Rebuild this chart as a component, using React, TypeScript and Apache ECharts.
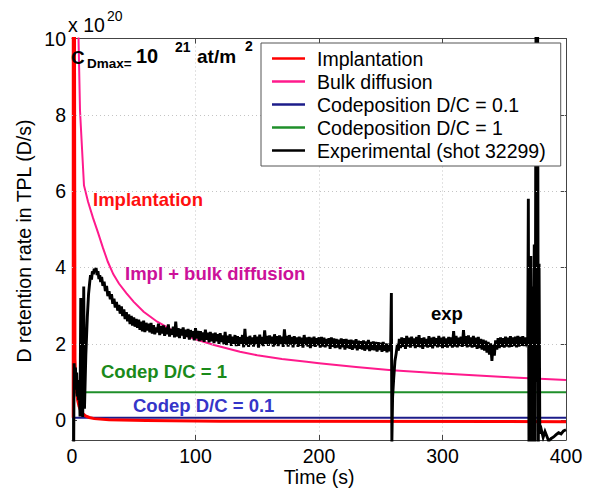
import React, { useEffect, useRef } from 'react';
import * as echarts from 'echarts';

const FONT = "'Liberation Sans', Arial, Helvetica, sans-serif";

const xTicks = [0, 100, 200, 300, 400];
const yTicks = [0, 2, 4, 6, 8, 10];
const yGridLines = [2, 4, 6, 8];

const seriesNames = [
  'Implantation',
  'Bulk diffusion',
  'Codeposition D/C = 0.1',
  'Codeposition D/C = 1',
  'Experimental (shot 32299)',
];
const seriesColors = ['#ff0000', '#ff1a8c', '#1c1c8a', '#1f8f2a', '#000000'];

const implantation: [number, number][] = [
  [1.0, 0.06], [1.1, 30], [2.4, 1.6], [3, 1.1], [3.8, 0.72], [4.6, 0.52], [5.7, 0.36],
  [7, 0.25], [8.3, 0.18], [11, 0.11], [14, 0.07], [18, 0.04], [30, 0.01],
  [60, -0.01], [120, -0.03], [400, -0.04],
];

const bulkDiffusion: [number, number][] = [
  [1.0, 0.06], [1.2, 30], [3, 16], [5.1, 10.3], [6.5, 8.1], [9.7, 6.15], [13, 5.72],
  [17, 5.3], [21, 4.92], [25, 4.52], [29, 4.15], [33.5, 3.82], [38, 3.58],
  [44, 3.33], [50, 3.1], [58, 2.84], [69, 2.58], [80, 2.38], [90, 2.24],
  [100, 2.12], [115, 1.97], [136, 1.79], [150, 1.7], [170, 1.6], [190, 1.53],
  [200, 1.49], [230, 1.39], [259, 1.31], [300, 1.22], [350, 1.13], [400, 1.05],
];

const codep01: [number, number][] = [[0, 0.06], [400, 0.06]];
const codep1: [number, number][] = [[0, 0.73], [400, 0.73]];

// Experimental signal.
const expHead: [number, number][] = [
  [1.4, -0.6], [1.7, 1.49], [2.3, 1.05], [2.8, 1.38], [3.3, 0.8], [3.8, 1.25],
  [4.3, 0.62], [4.8, 1.05], [5.3, 0.52], [5.9, 0.85], [6.5, 0.1], [7.1, 3.2],
  [7.6, 0.12], [8.2, 3.05], [8.7, 0.08], [9.5, 3.5], [10.1, 0.3], [11.2, 1.7],
  [12.4, 2.7], [13.4, 3.3], [14.3, 3.6], [15, 3.8], [15.8, 3.68], [16.5, 3.9],
  [17.3, 3.82], [18, 3.97], [18.8, 3.88], [19.5, 3.99], [20.3, 3.8], [21, 3.9],
  [21.8, 3.7], [22.5, 3.8], [23.2, 3.62],
];
// one sample per second from t = 24 s
const expSegAStart = 24;
const expSegA = [
  3.75, 3.52, 3.63, 3.38, 3.52, 3.25, 3.38, 3.17, 3.3, 3.05,
  3.18, 2.95, 3.1, 2.87, 3.02, 2.79, 2.98, 2.73, 2.9, 2.65,
  2.83, 2.59, 2.77, 2.52, 2.73, 2.48, 2.69, 2.45, 2.65, 2.42,
  2.63, 2.37, 2.58, 2.33, 2.61, 2.31, 2.55, 2.35, 2.53, 2.3,
  2.55, 2.27, 2.49, 2.25, 2.43, 2.3, 2.53, 2.23, 2.47, 2.27,
  2.48, 2.21, 2.43, 2.25, 2.51, 2.19, 2.39, 2.24, 2.45, 2.17,
  2.58, 2.19, 2.41, 2.15, 2.39, 2.22, 2.43, 2.13, 2.37, 2.18,
  2.39, 2.11, 2.36, 2.17, 2.33, 2.09, 2.41, 2.14, 2.34, 2.07,
  2.33, 2.09, 2.3, 2.05, 2.37, 2.11, 2.29, 2.04, 2.31, 2.07,
  2.27, 2.02, 2.29, 2.07, 2.25, 2.0, 2.28, 2.05, 2.22, 1.99,
  2.31, 1.97, 2.21, 2.03, 2.25, 1.95, 2.19, 2.0, 2.23, 1.94,
  2.2, 1.95, 2.17, 2.0, 2.23, 1.91, 2.39, 1.97, 2.18, 1.92,
  2.21, 1.98, 2.17, 1.93, 2.23, 1.99, 2.19, 1.9, 2.24, 1.97,
  2.18, 1.94, 2.35, 2.0, 2.21, 1.95, 2.22, 2.01, 2.19, 1.93,
  2.25, 1.97, 2.2, 1.94, 2.22, 2.0, 2.19, 1.92, 2.38, 1.99,
  2.21, 1.93, 2.23, 1.98, 2.18, 1.91, 2.2, 1.99, 2.17, 1.92,
  2.19, 1.95, 2.16, 1.9, 2.23, 1.97, 2.17, 1.93, 2.18, 1.89,
  2.16, 1.94, 2.19, 1.92, 2.15, 1.96, 2.17, 1.9, 2.18, 1.93,
  2.16, 1.91, 2.13, 1.94, 2.15, 1.87, 2.17, 1.92, 2.14, 1.89,
  2.13, 1.9, 2.11, 1.86, 2.14, 1.91, 2.12, 1.85, 2.13, 1.89,
  2.1, 1.87, 2.11, 1.84, 2.09, 1.88, 2.12, 1.83, 2.08, 1.87,
  2.07, 1.85, 2.09, 1.82, 2.06, 1.86, 2.1, 1.81, 2.05, 1.84,
  2.06, 1.83, 2.05, 1.8, 2.04, 1.84, 2.03, 1.79, 2.05, 1.82,
  2.01, 1.78, 2.0, 1.81, 1.92,
];
const expMid: [number, number][] = [
  [258.6, 3.33], [259, -0.6], [259.6, 0.6], [260.5, 1.1], [261.5, 1.55],
  [262.5, 1.75], [263.5, 2.0], [264.3, 1.82],
];
// one sample per second from t = 265 s
const expSegBStart = 265;
const expSegB = [
  2.13, 1.89, 2.17, 1.92, 2.15, 1.87, 2.21, 1.93, 2.16, 1.9,
  2.19, 1.94, 2.14, 1.89, 2.18, 1.92, 2.23, 1.91, 2.15, 1.87,
  2.17, 1.93, 2.13, 1.9, 2.2, 1.92, 2.16, 1.88, 2.18, 1.94,
  2.15, 1.91, 2.21, 1.93, 2.16, 1.89, 2.19, 1.92, 2.14, 1.9,
  2.18, 1.94, 2.17, 1.9, 2.33, 1.93, 2.21, 1.91, 2.16, 1.94,
  2.19, 1.92, 2.36, 1.95, 2.2, 1.91, 2.22, 1.93, 2.17, 1.9,
  2.21, 1.92, 2.16, 1.87, 2.18, 1.89, 2.13, 1.85, 2.11, 1.82,
  2.08, 1.77, 2.05, 1.72, 2.01, 1.55, 1.98, 1.69, 2.09, 1.85,
  2.15, 1.89, 2.17, 1.92, 2.15, 1.9, 2.19, 1.93, 2.16, 1.91,
  2.2, 1.92, 2.17, 1.94, 2.19, 1.91, 2.21, 1.93, 2.18, 1.95,
  2.2, 1.94, 2.17, 2.02,
];
const expTail: [number, number][] = [
  [369, 2.1], [369.5, 5.8], [370, -0.6], [370.8, 2.0], [371.5, 4.3], [372, -0.6],
  [372.6, 3.5], [373.2, -0.6], [374.3, 4.6], [375, -0.6], [375.8, 12], [376.5, 1.0],
  [377, 11], [377.6, -0.6], [378.2, 4.1], [378.8, -0.35], [380, -0.25], [381.5, -0.45],
  [383, -0.3], [384.5, -0.42], [386, -0.55], [388, -0.48], [390, -0.44], [392, -0.38],
  [394, -0.33], [396, -0.36], [398, -0.28], [400, -0.25],
];

const experimental: [number, number][] = [
  ...expHead,
  ...expSegA.map((v, i) => [expSegAStart + i, v] as [number, number]),
  ...expMid,
  ...expSegB.map((v, i) => [expSegBStart + i, v] as [number, number]),
  ...expTail,
];

const seriesData = [implantation, bulkDiffusion, codep01, codep1, experimental];
const seriesWidths = [3, 2, 2, 2, 2.9];

function txt(text: string, x: number, y: number, fill: string, size: number, weight = 'bold', extra: any = {}) {
  const { align, ...rest } = extra;
  return {
    type: 'text',
    x,
    y,
    z: 10,
    silent: true,
    ...rest,
    style: {
      text,
      fill,
      fontSize: size,
      fontWeight: weight,
      fontFamily: FONT,
      align: align || 'left',
      verticalAlign: 'middle',
    },
  };
}

export default function App() {
  const ref = useRef<HTMLDivElement>(null);
  useEffect(() => {
    document.body.style.margin = '0';
    const chart = echarts.init(ref.current!, null, { renderer: 'svg' });
    const axisLine = { show: true, onZero: false, lineStyle: { color: '#444', width: 1 } };
    const axisTick = { show: true, inside: true, length: 5, lineStyle: { color: '#444' } };
    const labelStyle = { color: '#000', fontSize: 19.5, fontFamily: FONT, margin: 6 };
    const series: any[] = [
      {
        name: 'gridlines',
        type: 'line',
        data: [],
        silent: true,
        z: 1,
        markLine: {
          silent: true,
          symbol: 'none',
          label: { show: false },
          lineStyle: { color: '#c4c4c4', type: [1, 3], width: 1 },
          data: yGridLines.map((v) => ({ yAxis: v })),
        },
      },
    ];
    seriesNames.forEach((name, i) => {
      series.push({
        name,
        type: 'line',
        data: seriesData[i],
        showSymbol: false,
        symbol: 'none',
        color: seriesColors[i],
        lineStyle: { width: seriesWidths[i], color: seriesColors[i], join: 'miter' },
        z: i === 4 ? 4 : i === 0 ? 3 : 2,
        clip: true,
      });
    });
    chart.setOption({
      animation: false,
      backgroundColor: '#fff',
      textStyle: { fontFamily: FONT },
      grid: { left: 72, right: 29, top: 38.5, bottom: 48, containLabel: false },
      xAxis: [
        {
          type: 'value', min: xTicks[0], max: xTicks[xTicks.length - 1], interval: 100,
          position: 'bottom', axisLine, axisTick, axisLabel: labelStyle,
          splitLine: { show: true, lineStyle: { color: '#c4c4c4', type: [1, 3], width: 1 } },
        },
        {
          type: 'value', min: xTicks[0], max: xTicks[xTicks.length - 1], interval: 100,
          position: 'top', axisLine, axisTick, axisLabel: { show: false }, splitLine: { show: false },
        },
      ],
      yAxis: [
        {
          type: 'value', min: -0.52, max: 10, position: 'left', axisLine,
          axisTick: { ...axisTick, customValues: yTicks },
          axisLabel: { ...labelStyle, customValues: yTicks },
          splitLine: { show: false },
        },
        {
          type: 'value', min: -0.52, max: 10, position: 'right', axisLine,
          axisTick: { ...axisTick, customValues: yTicks },
          axisLabel: { show: false, customValues: yTicks },
          splitLine: { show: false },
        },
      ],
      legend: {
        data: seriesNames,
        orient: 'vertical',
        left: 261,
        top: 43,
        padding: [4, 15, 4, 11],
        itemGap: 0,
        itemWidth: 33,
        itemHeight: 2.5,
        icon: 'rect',
        backgroundColor: '#fff',
        borderColor: '#555',
        borderWidth: 1,
        borderRadius: 0,
        selectedMode: false,
        z: 20,
        textStyle: { fontSize: 19.5, color: '#000', fontFamily: FONT, lineHeight: 23, padding: [0, 0, 0, 7] },
      },
      graphic: [
        txt('x 10', 68, 25, '#000', 19.5, 'normal'),
        txt('20', 107, 15.5, '#000', 14, 'normal'),
        txt('D retention rate in TPL (D/s)', 24, 241, '#000', 19.5, 'normal', { rotation: Math.PI / 2, align: 'center' }),
        txt('Time (s)', 319, 477, '#000', 19.5, 'normal', { align: 'center' }),
        txt('C', 71, 57, '#000', 19, 'bold'),
        txt('Dmax=', 87, 63, '#000', 13.5, 'bold'),
        txt('10', 136, 56, '#000', 20, 'bold'),
        txt('21', 175, 47, '#000', 14, 'bold'),
        txt('at/m', 197, 56, '#000', 19, 'bold'),
        txt('2', 245, 46, '#000', 14, 'bold'),
        txt('Implantation', 93, 199, '#ff1010', 18.5, 'bold'),
        txt('Impl + bulk diffusion', 125, 273, '#cc1199', 18.5, 'bold'),
        txt('exp', 431, 313, '#000', 18.5, 'bold'),
        txt('Codep D/C = 1', 101, 371, '#1a8a1a', 18.5, 'bold'),
        txt('Codep D/C = 0.1', 133, 405, '#3535c8', 18.5, 'bold'),
      ],
      series,
    });
    return () => chart.dispose();
  }, []);
  return <div ref={ref} style={{ width: 595, height: 488, background: '#fff' }} />;
}
